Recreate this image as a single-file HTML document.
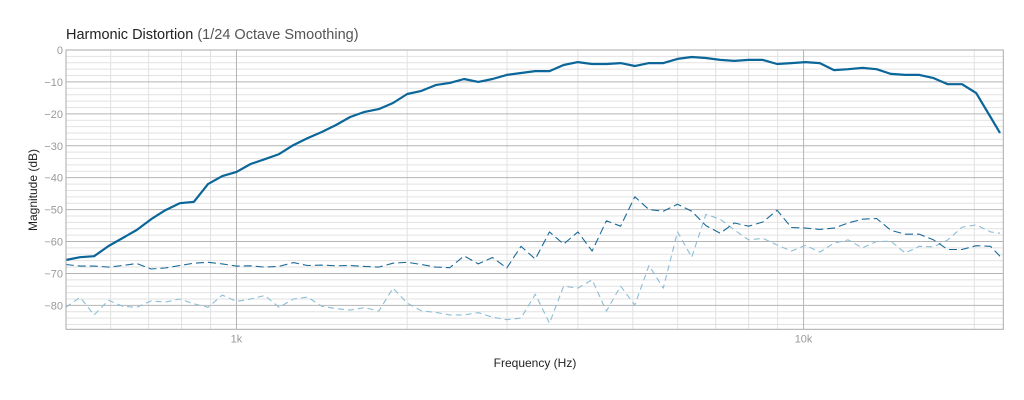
<!DOCTYPE html>
<html><head><meta charset="utf-8"><style>
html,body{margin:0;padding:0;background:#fff;width:1024px;height:400px;overflow:hidden}
svg{display:block;font-family:"Liberation Sans",sans-serif}
</style></head><body>
<svg id="chart" width="1024" height="400">
<text x="66" y="39" font-size="14.5" fill="#222">Harmonic Distortion <tspan fill="#555">(1/24 Octave Smoothing)</tspan></text>
<g id="grid"></g>
<g id="series"></g>
<rect x="66" y="50" width="937.3" height="279.3" fill="none" stroke="#aaa" stroke-width="1"/>
<text transform="translate(37,190) rotate(-90)" text-anchor="middle" font-size="12" fill="#222">Magnitude (dB)</text>
<text x="535" y="367" text-anchor="middle" font-size="12" fill="#222">Frequency (Hz)</text>
</svg>
<script>
const freqs=[500,530,561,595,630,667,707,749,794,841,891,944,1000,1059,1122,1189,1260,1335,1414,1498,1587,1682,1782,1888,2000,2119,2245,2378,2520,2670,2828,2997,3175,3364,3564,3775,4000,4238,4490,4757,5040,5339,5657,5993,6350,6727,7127,7551,8000,8476,8980,9514,10079,10679,11314,11986,12699,13454,14254,15102,16000,16951,17959,19027,20159,21357,22200];
const fundamental=[-65.8,-64.9,-64.6,-61.4,-58.9,-56.4,-53,-50.2,-48,-47.6,-42,-39.5,-38.2,-35.7,-34.2,-32.6,-29.8,-27.6,-25.7,-23.5,-21,-19.4,-18.5,-16.6,-13.8,-12.8,-11,-10.3,-9.1,-10,-9.1,-7.8,-7.2,-6.6,-6.6,-4.7,-3.8,-4.4,-4.4,-4.1,-5,-4.1,-4.1,-2.8,-2.2,-2.5,-3.1,-3.4,-3.1,-3.1,-4.4,-4.1,-3.8,-4.1,-6.3,-6,-5.6,-6,-7.5,-7.8,-7.8,-8.8,-10.7,-10.7,-13.5,-21,-26];
const harmonic2=[-67.2,-67.7,-67.7,-68,-67.5,-66.9,-68.6,-68.3,-67.5,-66.8,-66.5,-67,-67.7,-67.6,-68,-67.8,-66.6,-67.5,-67.4,-67.6,-67.5,-67.8,-68,-66.8,-66.5,-67.2,-68,-68.2,-64.5,-67,-65,-68.3,-61.5,-65.5,-57,-60.8,-57,-63,-53.5,-55.2,-46,-50,-50.5,-48.3,-50.5,-55,-57.4,-54.2,-55.2,-53.9,-50.2,-55.6,-55.8,-56.2,-55.8,-54.2,-53,-52.8,-56.5,-57.7,-57.7,-59.5,-62.5,-62.5,-61.3,-61.5,-64.6];
const harmonic3=[-80.6,-77.5,-83,-78.4,-80.3,-80.6,-78.6,-79,-78,-79.5,-80.6,-76.8,-78.8,-78,-76.9,-80.6,-78,-77.4,-80.3,-81,-81.5,-80.7,-81.8,-74.6,-79.3,-81.7,-82.2,-83,-83,-82.3,-83.7,-84.5,-84,-76.5,-85.6,-74,-74.6,-72,-81.8,-74,-79.9,-67.5,-74.6,-57,-64.9,-51.5,-53,-56.4,-59.5,-59,-61.1,-63,-61.2,-63.3,-60.5,-59.5,-62,-60,-59.9,-63.6,-61.5,-61.7,-59.5,-55.5,-54.8,-57,-57.4];
const yTicks=[0,-10,-20,-30,-40,-50,-60,-70,-80];
const xTickLabels=[[1000,"1k"],[10000,"10k"]];
const minorFreqs=[600,700,800,900,2000,3000,4000,5000,6000,7000,8000,9000,20000];

const X0=66,X1=1003.3,Y0=50,Y1=329.3;
const fMin=500.5,fMax=22500,dbTop=0,dbBot=-87.5;
function xs(f){return X0+(Math.log10(f)-Math.log10(fMin))/(Math.log10(fMax)-Math.log10(fMin))*(X1-X0);}
function ys(d){return Y0+(dbTop-d)/(dbTop-dbBot)*(Y1-Y0);}
const NS="http://www.w3.org/2000/svg";
const grid=document.getElementById('grid'),ser=document.getElementById('series'),svg=document.getElementById('chart');
function line(x1,y1,x2,y2,c,name){const l=document.createElementNS(NS,'line');l.setAttribute('x1',x1);l.setAttribute('y1',y1);l.setAttribute('x2',x2);l.setAttribute('y2',y2);l.setAttribute('stroke',c);l.setAttribute('stroke-width',1);


grid.appendChild(l);}
for(let d=-2;d>dbBot;d-=2){if(d%10!==0)line(X0,ys(d),X1,ys(d),'#e2e2e2','y-minor-gridline');}
minorFreqs.forEach(f=>line(xs(f),Y0,xs(f),Y1,'#e2e2e2','x-minor-gridline'));
yTicks.forEach(d=>{line(X0,ys(d),X1,ys(d),'#b4b4b4','y-major-gridline');
const t=document.createElementNS(NS,'text');t.setAttribute('x',X0-3);t.setAttribute('y',ys(d)+4);t.setAttribute('text-anchor','end');t.setAttribute('font-size','11');t.setAttribute('fill','#999');t.textContent=d===0?'0':'\u2212'+Math.abs(d);


svg.appendChild(t);});
xTickLabels.forEach(([f,l])=>{line(xs(f),Y0,xs(f),Y1,'#b4b4b4','x-major-gridline');
const t=document.createElementNS(NS,'text');t.setAttribute('x',xs(f));t.setAttribute('y',Y1+13);t.setAttribute('text-anchor','middle');t.setAttribute('font-size','11');t.setAttribute('fill','#999');t.textContent=l;


svg.appendChild(t);});
function path(vals,color,w,dash,name){const p=document.createElementNS(NS,'path');
p.setAttribute('d',vals.map((v,i)=>(i?'L':'M')+xs(freqs[i]).toFixed(1)+','+ys(v).toFixed(1)).join(''));
p.setAttribute('fill','none');p.setAttribute('stroke',color);p.setAttribute('stroke-width',w);p.setAttribute('stroke-linejoin','round');if(dash)p.setAttribute('stroke-dasharray',dash);


ser.appendChild(p);}
path(harmonic3,'#8dbdd5',1.1,'6,4','third-harmonic-line');
path(harmonic2,'#1a6a98',1.1,'8,4','second-harmonic-line');
path(fundamental,'#0b6699',2.2,null,'fundamental-line');
</script>
</body></html>
